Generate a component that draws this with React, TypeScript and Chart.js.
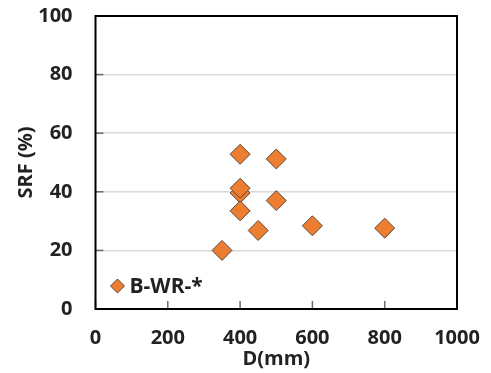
import React, { useEffect, useRef } from "react";
import { Chart, registerables } from "chart.js";

Chart.register(...registerables);

const seriesLabel = "B-WR-*";
const diameters = [350, 400, 400, 400, 400, 450, 500, 500, 600, 800];
const srfValues = [20, 52.8, 39.6, 41.2, 33.5, 26.8, 51.2, 37, 28.4, 27.6];
const xTickValues = [0, 200, 400, 600, 800, 1000];
const yTickValues = [0, 20, 40, 60, 80, 100];
const xTitle = "D(mm)";
const yTitle = "SRF (%)";

const FONT = "'Open Sans', 'Liberation Sans', sans-serif";
const ORANGE = "#ED7D31";
const EDGE = "#5a4a3a";

const decorPlugin = {
  id: "decor",
  beforeDatasetsDraw(chart: any) {
    const { ctx, chartArea } = chart;
    const xs = chart.scales.x;
    const ys = chart.scales.y;
    ctx.save();
    ctx.strokeStyle = "#6b6b6b";
    ctx.lineWidth = 1.5;
    xTickValues.forEach((v) => {
      const px = xs.getPixelForValue(v);
      ctx.beginPath();
      ctx.moveTo(px, chartArea.bottom);
      ctx.lineTo(px, chartArea.bottom - 8);
      ctx.stroke();
    });
    yTickValues.forEach((v) => {
      const py = ys.getPixelForValue(v);
      ctx.beginPath();
      ctx.moveTo(chartArea.left, py);
      ctx.lineTo(chartArea.left + 8, py);
      ctx.stroke();
    });
    ctx.strokeStyle = "#000";
    ctx.lineWidth = 2;
    ctx.strokeRect(
      chartArea.left,
      chartArea.top,
      chartArea.right - chartArea.left,
      chartArea.bottom - chartArea.top
    );
    ctx.restore();
  },
  afterDraw(chart: any) {
    const { ctx, chartArea } = chart;
    const ds = chart.data.datasets[0];
    const cx = chartArea.left + 22;
    const cy = chartArea.bottom - 23;
    const r = 7;
    ctx.save();
    ctx.beginPath();
    ctx.moveTo(cx, cy - r);
    ctx.lineTo(cx + r, cy);
    ctx.lineTo(cx, cy + r);
    ctx.lineTo(cx - r, cy);
    ctx.closePath();
    ctx.fillStyle = ds.backgroundColor;
    ctx.fill();
    ctx.strokeStyle = ds.borderColor;
    ctx.lineWidth = 1;
    ctx.stroke();
    ctx.fillStyle = "#222";
    ctx.font = `bold 21px ${FONT}`;
    ctx.textBaseline = "middle";
    ctx.textAlign = "left";
    ctx.fillText(ds.label, cx + 12, cy + 1);
    ctx.restore();
  },
};

export default function App() {
  const ref = useRef<HTMLCanvasElement | null>(null);

  useEffect(() => {
    if (!ref.current) return;
    const chart = new Chart(ref.current, {
      type: "scatter",
      data: {
        datasets: [
          {
            label: seriesLabel,
            data: diameters.map((d, i) => ({ x: d, y: srfValues[i] })),
            pointStyle: "rectRot",
            pointRadius: 10,
            pointHoverRadius: 10,
            backgroundColor: ORANGE,
            borderColor: EDGE,
            borderWidth: 1,
            clip: false,
          } as any,
        ],
      },
      options: {
        animation: false,
        responsive: true,
        maintainAspectRatio: false,
        layout: { padding: { top: 16, right: 34, left: 0, bottom: 0 } },
        plugins: { legend: { display: false }, tooltip: { enabled: false } },
        scales: {
          x: {
            type: "linear",
            min: 0,
            max: 1000,
            afterFit: (s: any) => {
              s.height = 64;
              s.paddingLeft = 0;
              s.paddingRight = 0;
            },
            afterBuildTicks: (s: any) => {
              s.ticks = xTickValues.map((v) => ({ value: v }));
            },
            grid: { display: false, drawTicks: false },
            border: { display: false },
            ticks: {
              padding: 17,
              color: "#222",
              callback: (v: any) => String(v),
              font: { family: FONT, size: 20, weight: "bold" },
            },
            title: {
              display: true,
              text: xTitle,
              color: "#222",
              font: { family: FONT, size: 20, weight: "bold" },
              padding: { top: 0, bottom: 2 },
            },
          },
          y: {
            type: "linear",
            min: 0,
            max: 100,
            afterFit: (s: any) => {
              s.width = 95.5;
              s.paddingTop = 0;
              s.paddingBottom = 0;
            },
            afterBuildTicks: (s: any) => {
              s.ticks = yTickValues.map((v) => ({ value: v }));
            },
            grid: { color: "#d9d9d9", lineWidth: 1.5, drawTicks: false },
            border: { display: false },
            ticks: {
              padding: 23,
              color: "#222",
              callback: (v: any) => String(v),
              font: { family: FONT, size: 20, weight: "bold" },
            },
            title: {
              display: true,
              text: yTitle,
              color: "#222",
              font: { family: FONT, size: 20, weight: "bold" },
              padding: { top: 14, bottom: 0 },
            },
          },
        },
      } as any,
      plugins: [decorPlugin],
    });
    return () => chart.destroy();
  }, []);

  return (
    <div
      style={{
        position: "absolute",
        left: 0,
        top: 0,
        width: 491,
        height: 373,
        background: "#fff",
      }}
    >
      <canvas ref={ref} />
    </div>
  );
}
